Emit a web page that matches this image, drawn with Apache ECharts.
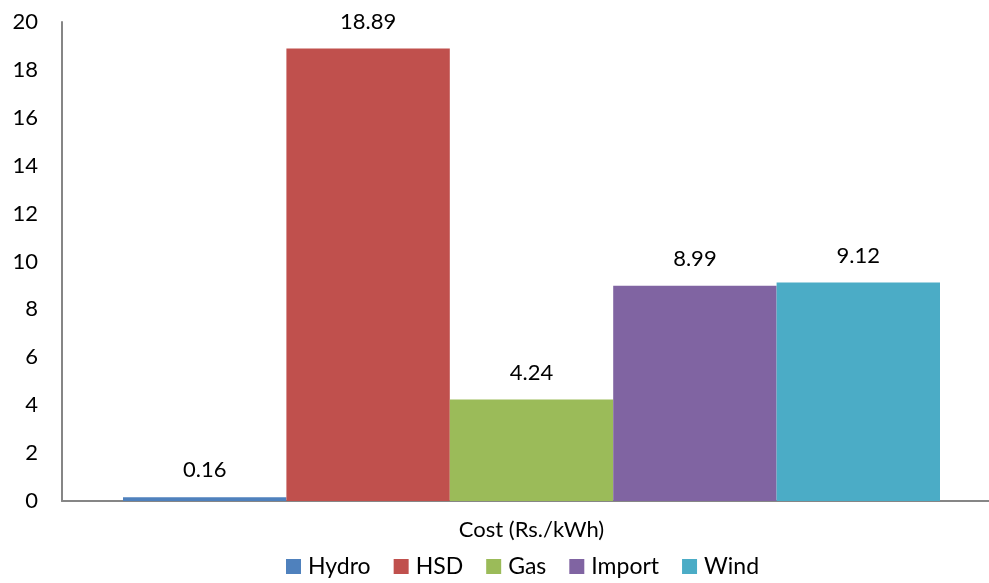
<!DOCTYPE html>
<html><head><meta charset="utf-8">
<script src="https://cdn.jsdelivr.net/npm/echarts@6/dist/echarts.min.js"></script>
<style>html,body{margin:0;padding:0;background:#fff;overflow:hidden}#c{width:1001px;height:583px}</style>
</head><body><div id="c"></div>
<script>
const categories = ['Cost (Rs./kWh)'];
const seriesNames = ['Hydro', 'HSD', 'Gas', 'Import', 'Wind'];
const values = [0.16, 18.89, 4.24, 8.99, 9.12];
const colors = ['#4F81BD', '#C0504D', '#9BBB59', '#8064A2', '#4BACC6'];
const font = 'Lato, "Open Sans", sans-serif';

const chart = echarts.init(document.getElementById('c'));
chart.setOption({
  animation: false,
  grid: { left: 62, right: 0, top: 22, bottom: 82 },
  legend: {
    bottom: 0, left: 281, itemWidth: 15, itemHeight: 15, itemGap: 23,
    icon: 'rect',
    textStyle: { fontFamily: font, fontSize: 23, color: '#000', padding: [0, 0, 0, 2] },
    data: seriesNames
  },
  xAxis: {
    type: 'category', data: categories,
    axisLine: { lineStyle: { color: '#868686', width: 2 } },
    axisTick: { show: false },
    axisLabel: { fontFamily: font, fontSize: 22, color: '#000', margin: 18 }
  },
  yAxis: {
    type: 'value', min: 0, max: 20, interval: 2,
    axisLine: { show: true, lineStyle: { color: '#868686', width: 2 } },
    axisTick: { show: false },
    splitLine: { show: false },
    axisLabel: { fontFamily: font, fontSize: 22, color: '#000', margin: 24 }
  },
  series: seriesNames.map((n, i) => ({
    name: n, type: 'bar', barWidth: 163.4, barGap: '0%',
    itemStyle: { color: colors[i] },
    label: { show: true, position: 'top', distance: 16, fontFamily: font, fontSize: 22, color: '#000' },
    data: [values[i]]
  }))
});
</script></body></html>
